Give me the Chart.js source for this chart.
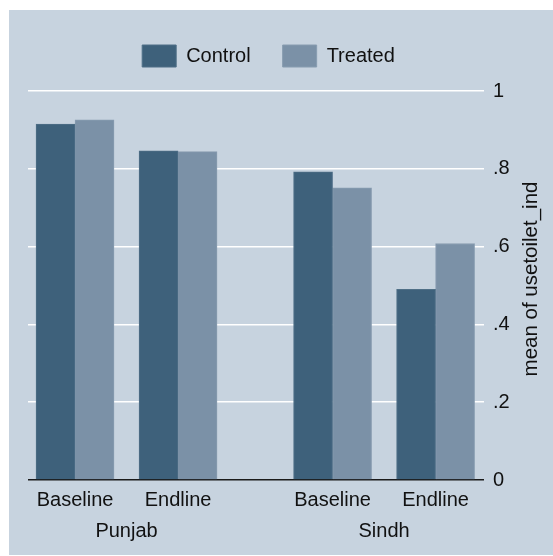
<!DOCTYPE html>
<html>
<head>
<meta charset="utf-8">
<script src="https://cdn.jsdelivr.net/npm/chart.js@4.4.1/dist/chart.umd.min.js"></script>
<style>
  body { margin: 0; background: #fff; }
  #wrap { position: absolute; left: 9px; top: 10px; width: 544px; height: 545px; background: #c7d3df; }
</style>
</head>
<body>
<div id="wrap"><canvas id="toiletChart" width="544" height="545"></canvas></div>
<script>
// mean of usetoilet_ind, by province and survey round
const provinces = ['Punjab', 'Sindh'];
const rounds = ['Baseline', 'Endline'];
const controlMeans = [0.915, 0.846, 0.792, 0.490];
const treatedMeans = [0.926, 0.844, 0.751, 0.608];
const yTicks = [0, 0.2, 0.4, 0.6, 0.8, 1];

// rounds sit 2 units apart inside a province, provinces 5 units apart
const slotOf = (pi, ri) => pi * 5 + ri * 2;
const barSlots = [];
const barLabels = [];
provinces.forEach((p, pi) => {
    rounds.forEach((r, ri) => {
        barSlots.push(slotOf(pi, ri));
        barLabels.push(r);
    });
});
const provinceSlots = provinces.map((p, pi) => slotOf(pi, 0.5));

const font = { family: '"Liberation Sans", Arial, sans-serif', size: 20 };
const textColor = '#111';

// y-axis title reads bottom to top, which Chart.js does not do on a right axis
const yTitle = {
    id: 'yTitle',
    afterDraw(chart) {
        const ctx = chart.ctx;
        ctx.save();
        ctx.translate(522, 269);
        ctx.rotate(-Math.PI / 2);
        ctx.font = '20.5px ' + font.family;
        ctx.fillStyle = textColor;
        ctx.textAlign = 'center';
        ctx.textBaseline = 'middle';
        ctx.fillText('mean of usetoilet_ind', 0, 0);
        ctx.restore();
    }
};

// legend is centred a little left of the full width, like the original
const legendShift = {
    id: 'legendShift',
    afterLayout(chart) {
        chart.legend.left -= 22;
        chart.legend.right -= 22;
    }
};

const xRange = { min: -0.913, max: 7.94 };

new Chart(document.getElementById('toiletChart'), {
    type: 'bar',
    data: {
        datasets: [{
            label: 'Control',
            data: barSlots.map((x, i) => ({ x: x, y: controlMeans[i] })),
            backgroundColor: '#3e617b',
            borderColor: '#4f6f87',
            borderWidth: 1,
            barThickness: 39
        }, {
            label: 'Treated',
            data: barSlots.map((x, i) => ({ x: x, y: treatedMeans[i] })),
            backgroundColor: '#7b91a7',
            borderColor: '#889cb0',
            borderWidth: 1,
            barThickness: 39
        }]
    },
    options: {
        responsive: false,
        animation: false,
        layout: { padding: { left: 19, right: 0, top: 3, bottom: 0 } },
        plugins: {
            legend: {
                position: 'top',
                labels: {
                    boxWidth: 34,
                    boxHeight: 22,
                    padding: 32,
                    color: textColor,
                    font: font
                }
            },
            tooltip: { enabled: false }
        },
        scales: {
            x: {
                type: 'linear',
                position: 'bottom',
                min: xRange.min,
                max: xRange.max,
                offset: false,
                grid: { display: false, offset: false },
                border: { display: false },
                afterBuildTicks: scale => { scale.ticks = barSlots.map(v => ({ value: v })); },
                afterFit: scale => { scale.height = 26; },
                ticks: {
                    autoSkip: false,
                    maxRotation: 0,
                    padding: 0,
                    color: textColor,
                    font: font,
                    callback: v => barLabels[barSlots.indexOf(v)]
                }
            },
            x2: {
                type: 'linear',
                position: 'bottom',
                min: xRange.min,
                max: xRange.max,
                offset: false,
                grid: { display: false },
                border: { display: false },
                afterBuildTicks: scale => { scale.ticks = provinceSlots.map(v => ({ value: v })); },
                afterFit: scale => { scale.height = 49; },
                ticks: {
                    autoSkip: false,
                    maxRotation: 0,
                    padding: 5,
                    color: textColor,
                    font: font,
                    callback: v => provinces[provinceSlots.indexOf(v)]
                }
            },
            y: {
                position: 'right',
                min: 0,
                max: 1.036,
                border: { display: false },
                grid: {
                    drawTicks: false,
                    color: c => c.tick && c.tick.value === 0 ? '#1a1a1a' : '#ffffff',
                    lineWidth: 1.5
                },
                afterBuildTicks: scale => { scale.ticks = yTicks.map(v => ({ value: v })); },
                afterFit: scale => { scale.width = 69; },
                ticks: {
                    padding: 9,
                    color: textColor,
                    font: font,
                    callback: v => (v === 0 || v === 1) ? String(v) : v.toFixed(1).replace(/^0/, '')
                }
            }
        }
    },
    plugins: [yTitle, legendShift]
});
</script>
</body>
</html>
